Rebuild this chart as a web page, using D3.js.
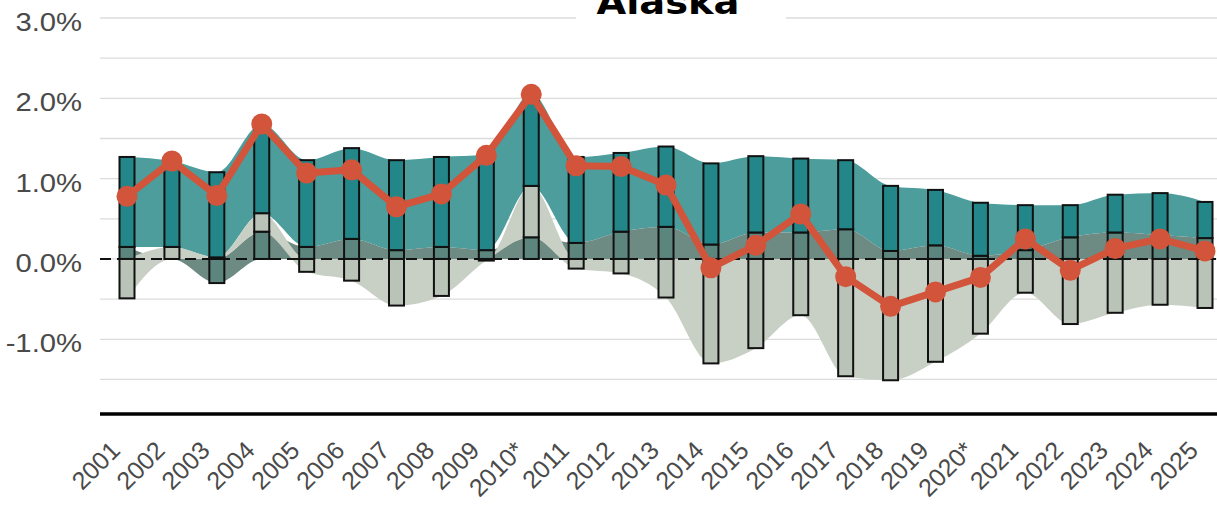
<!DOCTYPE html>
<html><head><meta charset="utf-8">
<script src="https://cdn.jsdelivr.net/npm/d3@7"></script>
<style>body{margin:0;background:#fff;overflow:hidden}</style>
</head><body><svg id="chart" width="1217" height="510"></svg>
<script>
const years = ["2001","2002","2003","2004","2005","2006","2007","2008","2009","2010*","2011","2012","2013","2014","2015","2016","2017","2018","2019","2020*","2021","2022","2023","2024","2025"];
const naturalIncrease = [1.12,1.07,1.06,1.11,1.08,1.13,1.12,1.12,1.19,1.15,1.07,0.98,1.00,1.01,0.95,0.92,0.86,0.81,0.69,0.66,0.56,0.40,0.47,0.52,0.45];
const internationalMigration = [0.15,0.00,-0.30,0.34,0.15,0.25,0.11,0.15,0.11,0.27,0.20,0.34,0.40,0.18,0.33,0.33,0.37,0.10,0.17,0.04,0.11,0.27,0.33,0.30,0.26];
const domesticMigration = [-0.49,0.15,0.02,0.23,-0.16,-0.27,-0.58,-0.46,-0.02,0.64,-0.12,-0.18,-0.48,-1.30,-1.11,-0.70,-1.46,-1.51,-1.28,-0.93,-0.42,-0.81,-0.67,-0.57,-0.61];
const netChange = [0.78,1.22,0.79,1.68,1.07,1.11,0.65,0.81,1.29,2.05,1.16,1.15,0.92,-0.11,0.17,0.56,-0.22,-0.59,-0.41,-0.23,0.25,-0.14,0.13,0.25,0.10];
const yTickValues = [3,2,1,0,-1];
const gridValues = [3,2.5,2,1.5,1,0.5,0,-0.5,-1,-1.5];
const chartTitle = "Alaska";

const svg = d3.select("#chart");
const W = 1217;
const x = d3.scalePoint().domain(years).range([127, 1205]);
const y = d3.scaleLinear().domain([-1.93, 3.0]).range([414, 18]);

const keys = ["intl","dom","nat"];
const rows = years.map((yr,i)=>({year:yr, intl:internationalMigration[i], dom:domesticMigration[i], nat:naturalIncrease[i]}));
const stacked = d3.stack().keys(keys).offset(d3.stackOffsetDiverging)(rows);
const byKey = {}; stacked.forEach(s=>byKey[s.key]=s);

const areaFill = {nat:"#4c9d9c", intl:"#6d8a83", dom:"#c8d0c5"};
const barFill = {nat:"#23878a", intl:"#5c857e", dom:"#b9c3b8"};

// gridlines
svg.append("g").selectAll("line").data(gridValues).join("line")
  .attr("x1",100).attr("x2",W).attr("y1",d=>y(d)).attr("y2",d=>y(d))
  .attr("stroke","#dcdcdc").attr("stroke-width",1.3);

// areas
const area = d3.area().curve(d3.curveMonotoneX)
  .x(d=>x(d.data.year)).y0(d=>y(d[0])).y1(d=>y(d[1]));
["nat","intl","dom"].forEach(k=>{
  svg.append("path").datum(byKey[k]).attr("d",area).attr("fill",areaFill[k]);
});

// zero line
svg.append("line").attr("x1",100).attr("x2",W).attr("y1",y(0)).attr("y2",y(0))
  .attr("stroke","#111").attr("stroke-width",2).attr("stroke-dasharray","11,6");

// bars
const bw = 15;
keys.forEach(k=>{
  svg.append("g").selectAll("rect").data(byKey[k].filter(d=>Math.abs(d[1]-d[0])>0.005)).join("rect")
    .attr("x",d=>x(d.data.year)-bw/2).attr("width",bw)
    .attr("y",d=>y(Math.max(d[0],d[1])))
    .attr("height",d=>Math.abs(y(d[0])-y(d[1])))
    .attr("fill",barFill[k]).attr("stroke","#111").attr("stroke-width",2);
});

// net line
const red = "#d2543a";
const line = d3.line().x((d,i)=>x(years[i])).y(d=>y(d));
svg.append("path").datum(netChange).attr("d",line).attr("fill","none")
  .attr("stroke",red).attr("stroke-width",7).attr("stroke-linejoin","round");
svg.append("g").selectAll("circle").data(netChange).join("circle")
  .attr("cx",(d,i)=>x(years[i])).attr("cy",d=>y(d)).attr("r",10.5).attr("fill",red);

// bottom axis line
svg.append("line").attr("x1",100).attr("x2",W).attr("y1",414).attr("y2",414)
  .attr("stroke","#000").attr("stroke-width",3.5);

// y labels
const yAxis = d3.axisLeft(y).tickValues(yTickValues).tickSize(0).tickFormat(d=>d3.format(".1f")(d).replace("\u2212","-")+"%");
const yg = svg.append("g").attr("transform","translate(82,0)").call(yAxis);
yg.select(".domain").remove();
yg.selectAll(".tick").attr("transform",null);
yg.selectAll(".tick text").attr("font-family","Liberation Sans, Arial, sans-serif").attr("font-size",25)
  .attr("fill","#4a4a4a").attr("x",0).attr("y",0).attr("dy",null).attr("text-anchor","end")
  .attr("transform",d=>`translate(0,${y(d)+13}) scale(1.17,1)`);

// x labels
const xAxis = d3.axisBottom(x).tickSize(0);
const xg = svg.append("g").attr("transform","translate(0,414)").call(xAxis);
xg.select(".domain").remove();
xg.selectAll("text").attr("font-family","Liberation Sans, Arial, sans-serif").attr("font-size",25)
  .attr("fill","#4a4a4a").attr("text-anchor","end").attr("y",0).attr("dy",null)
  .attr("transform","translate(-6,38) rotate(-45)");

// title
svg.append("rect").attr("x",576).attr("y",0).attr("width",210).attr("height",25).attr("fill","#fff");
svg.append("text").attr("x",668).attr("y",14).attr("text-anchor","middle")
  .attr("font-family","DejaVu Sans, sans-serif").attr("font-weight","bold").attr("font-size",34)
  .attr("textLength",143).attr("lengthAdjust","spacingAndGlyphs")
  .attr("fill","#000").text(chartTitle);
</script></body></html>
